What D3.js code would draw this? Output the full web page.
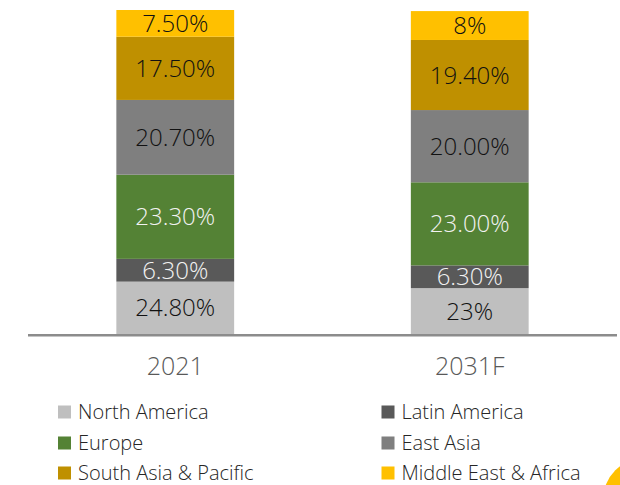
<!DOCTYPE html>
<html>
<head>
<meta charset="utf-8">
<script src="https://cdn.jsdelivr.net/npm/d3@7/dist/d3.min.js"></script>
<style>
  html, body { margin: 0; padding: 0; background: #fff; }
  svg { display: block; font-family: "Open Sans", sans-serif; }
</style>
</head>
<body>
<svg id="chart" width="620" height="485"></svg>
<script>
// ---- data ----
const categories = ["2021", "2031F"];
const regions = ["North America", "Latin America", "Europe", "East Asia", "South Asia & Pacific", "Middle East & Africa"];
const northAmerica = [24.8, 23];
const latinAmerica = [6.3, 6.3];
const europe = [23.3, 23.0];
const eastAsia = [20.7, 20.0];
const southAsia = [17.5, 19.4];
const middleEast = [7.5, 8];
const valueLabels = [
  ["24.80%", "23%"],
  ["6.30%", "6.30%"],
  ["23.30%", "23.00%"],
  ["20.70%", "20.00%"],
  ["17.50%", "19.40%"],
  ["7.50%", "8%"]
];
const colors = ["#BFBFBF", "#595959", "#548235", "#7F7F7F", "#BF9000", "#FFC000"];
const labelColors = ["#111", "#f2f2f2", "#f2f2f2", "#111", "#111", "#111"];

const seriesValues = [northAmerica, latinAmerica, europe, eastAsia, southAsia, middleEast];
const table = categories.map((c, i) => {
  const row = { cat: c };
  regions.forEach((r, k) => row[r] = seriesValues[k][i]);
  return row;
});

const svg = d3.select("#chart");

const x = d3.scaleBand().domain(categories).range([28, 617]).paddingInner(0.6).paddingOuter(0.3);
const y = d3.scaleLinear().domain([10.3, 100]).range([334, 10]).clamp(true);

const stack = d3.stack().keys(regions);
const series = stack(table);

const g = svg.append("g");
series.forEach((s, k) => {
  const grp = g.append("g");
  grp.selectAll("rect").data(s).join("rect")
    .attr("x", d => x(d.data.cat))
    .attr("width", x.bandwidth())
    .attr("y", d => y(d[1]))
    .attr("height", d => y(d[0]) - y(d[1]))
    .attr("fill", colors[k]);
  grp.selectAll("text").data(s).join("text")
    .attr("x", d => x(d.data.cat) + x.bandwidth() / 2)
    .attr("y", d => (y(d[0]) + y(d[1])) / 2)
    .attr("dy", "0.36em")
    .attr("text-anchor", "middle")
    .attr("font-size", 24)
    .attr("font-weight", 300)
    .attr("fill", labelColors[k])
    .text((d, i) => valueLabels[k][i]);
});

// axis line
svg.append("line")
  .attr("x1", x.range()[0]).attr("x2", x.range()[1])
  .attr("y1", 335.2).attr("y2", 335.2)
  .attr("stroke", "#8c8c8c").attr("stroke-width", 2.5);

// category labels
const xAxis = d3.axisBottom(x).tickSize(0).tickPadding(0);
const ax = svg.append("g").attr("transform", "translate(0,357)").call(xAxis);
ax.select(".domain").remove();
ax.selectAll("text")
  .attr("font-size", 25)
  .attr("font-weight", 300)
  .attr("fill", "#595959")
  .attr("font-family", "Open Sans, sans-serif")
  .attr("dy", "0.71em");

// legend
const legendPos = [
  [58, 412], [381.5, 412],
  [58, 443], [381.5, 443],
  [58, 473], [381.5, 473]
];
const lg = svg.append("g");
regions.forEach((r, k) => {
  const [lx, ly] = legendPos[k];
  lg.append("rect").attr("x", lx).attr("y", ly - 6.5).attr("width", 13).attr("height", 13).attr("fill", colors[k]);
  lg.append("text").attr("x", lx + 20).attr("y", ly).attr("dy", "0.36em")
    .attr("font-size", 20).attr("font-weight", 300).attr("fill", "#262626").text(r);
});

// decorative corner
svg.append("circle").attr("cx", 645).attr("cy", 500).attr("r", 42).attr("fill", "#FFC000");
</script>
</body>
</html>
